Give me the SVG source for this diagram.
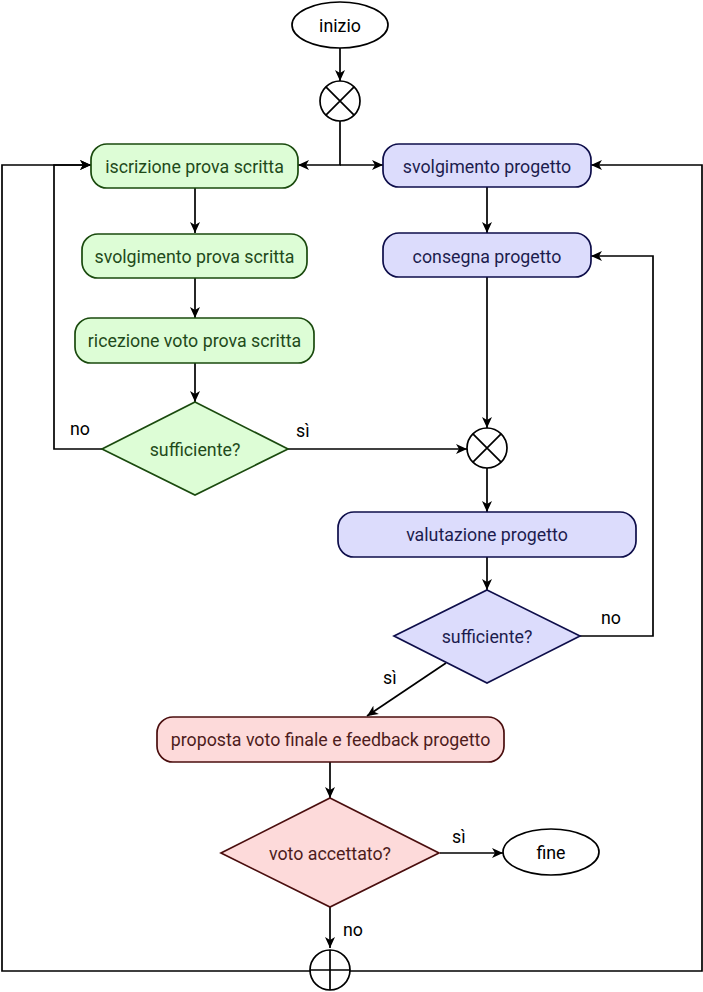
<svg xmlns="http://www.w3.org/2000/svg" width="703" height="992" viewBox="0 0 703 992">
<defs>
<marker id="arr" markerUnits="userSpaceOnUse" markerWidth="13" markerHeight="11" refX="11" refY="5.5" orient="auto">
<path d="M0,0.5 L11,5.5 L0,10.5 L3,5.5 z" fill="#000"/>
</marker>
<style>
text{font-family:Roboto,"Liberation Sans",sans-serif;font-size:17.8px;text-anchor:middle;dominant-baseline:central}
.g{fill:#ddfdd6;stroke:#1a4a0e;stroke-width:1.7}
.gt{fill:#1f4a1a}
.b{fill:#dcdcfc;stroke:#0e0e4a;stroke-width:1.7}
.bt{fill:#1c1c4e}
.r{fill:#fddada;stroke:#4a0e0e;stroke-width:1.7}
.rt{fill:#4d1c1c}
.w{fill:#fff;stroke:#000;stroke-width:1.7}
.c{fill:none;stroke:#000;stroke-width:1.7}
.lbl{fill:#000;text-anchor:start}
</style>
</defs>
<rect width="703" height="992" fill="#fff"/>
<g id="connectors" class="c">
<path d="M340,48 V81" marker-end="url(#arr)"/>
<path d="M340,121 V165 H298" marker-end="url(#arr)"/>
<path d="M340,165 H383" marker-end="url(#arr)"/>
<path d="M195,188 V233" marker-end="url(#arr)"/>
<path d="M195,278 V318" marker-end="url(#arr)"/>
<path d="M195,363 V402" marker-end="url(#arr)"/>
<path d="M102,449 H54 V165 H91" marker-end="url(#arr)"/>
<path d="M288,449 H467" marker-end="url(#arr)"/>
<path d="M487,187 V233" marker-end="url(#arr)"/>
<path d="M487,277 V428" marker-end="url(#arr)"/>
<path d="M487,468 V512" marker-end="url(#arr)"/>
<path d="M487,557 V590" marker-end="url(#arr)"/>
<path d="M580,636 H653 V256 H591" marker-end="url(#arr)"/>
<path d="M446,663 L367,716" marker-end="url(#arr)"/>
<path d="M330,762 V798" marker-end="url(#arr)"/>
<path d="M440,853 H503" marker-end="url(#arr)"/>
<path d="M330,907 V948" marker-end="url(#arr)"/>
<path d="M310,971 H2 V165 H91" marker-end="url(#arr)"/>
<path d="M350,971 H702 V165 H591" marker-end="url(#arr)"/>
</g>
<g id="labels">
<text class="lbl" x="70" y="428">no</text>
<text class="lbl" x="296" y="430">sì</text>
<text class="lbl" x="601" y="617">no</text>
<text class="lbl" x="383" y="677">sì</text>
<text class="lbl" x="452" y="836">sì</text>
<text class="lbl" x="343" y="929">no</text>
</g>
<g id="inizio">
<ellipse class="w" cx="340" cy="25" rx="48" ry="23"/>
<text x="340" y="25">inizio</text>
</g>
<g id="merge1">
<circle class="w" cx="340" cy="101" r="20"/>
<path class="c" d="M325.9,86.9 L354.1,115.1 M354.1,86.9 L325.9,115.1"/>
</g>
<g id="iscrizione">
<rect class="g" x="91" y="144" width="207" height="44" rx="16"/>
<text class="gt" x="194.5" y="166">iscrizione prova scritta</text>
</g>
<g id="svolgimento-prova">
<rect class="g" x="82" y="234" width="225" height="44" rx="16"/>
<text class="gt" x="194.5" y="256">svolgimento prova scritta</text>
</g>
<g id="ricezione">
<rect class="g" x="75" y="318" width="239" height="45" rx="16"/>
<text class="gt" x="194.5" y="340">ricezione voto prova scritta</text>
</g>
<g id="sufficiente1">
<polygon class="g" points="195,402 288,449 195,495 102,449"/>
<text class="gt" x="195" y="449">sufficiente?</text>
</g>
<g id="svolgimento-progetto">
<rect class="b" x="383" y="144" width="208" height="43" rx="16"/>
<text class="bt" x="487" y="166">svolgimento progetto</text>
</g>
<g id="consegna">
<rect class="b" x="383" y="233" width="208" height="44" rx="16"/>
<text class="bt" x="487" y="256">consegna progetto</text>
</g>
<g id="merge2">
<circle class="w" cx="487" cy="448" r="20"/>
<path class="c" d="M472.9,433.9 L501.1,462.1 M501.1,433.9 L472.9,462.1"/>
</g>
<g id="valutazione">
<rect class="b" x="338" y="512" width="298" height="45" rx="16"/>
<text class="bt" x="487" y="534">valutazione progetto</text>
</g>
<g id="sufficiente2">
<polygon class="b" points="487,590 580,636 487,683 394,636"/>
<text class="bt" x="487" y="636">sufficiente?</text>
</g>
<g id="proposta">
<rect class="r" x="157" y="717" width="347" height="45" rx="16"/>
<text class="rt" x="330.5" y="739">proposta voto finale e feedback progetto</text>
</g>
<g id="accettato">
<polygon class="r" points="330,798 439,853 330,907 221,853"/>
<text class="rt" x="330" y="853">voto accettato?</text>
</g>
<g id="fine">
<ellipse class="w" cx="551" cy="852" rx="48" ry="23"/>
<text x="551" y="852">fine</text>
</g>
<g id="fork">
<circle class="w" cx="330" cy="970" r="20"/>
<path class="c" d="M330,950 V990 M310,970 H350"/>
</g>
</svg>
